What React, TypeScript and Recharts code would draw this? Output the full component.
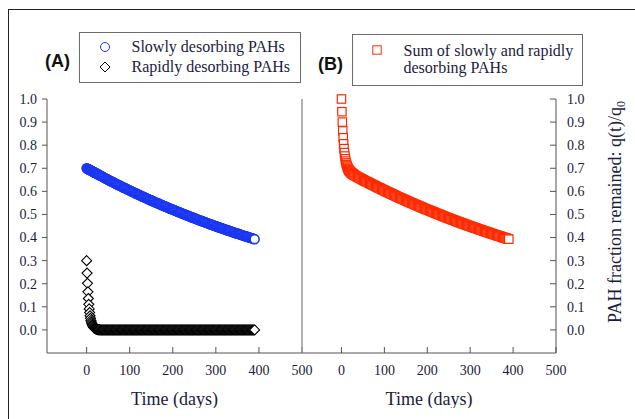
import React from "react";
import { ScatterChart, Scatter, XAxis, YAxis, ReferenceLine } from "recharts";

// sampling days: daily through day 30, then every second day
const DAYS = [
  0, 1, 2, 3, 4, 5, 6, 7, 8, 9, 10, 11, 12, 13, 14, 15, 16, 17, 18, 19, 20,
  21, 22, 23, 24, 25, 26, 27, 28, 29, 30,
  32, 34, 36, 38, 40, 42, 44, 46, 48, 50, 52, 54, 56, 58, 60, 62, 64, 66, 68, 70,
  72, 74, 76, 78, 80, 82, 84, 86, 88, 90, 92, 94, 96, 98, 100, 102, 104, 106, 108, 110,
  112, 114, 116, 118, 120, 122, 124, 126, 128, 130, 132, 134, 136, 138, 140, 142, 144, 146, 148, 150,
  152, 154, 156, 158, 160, 162, 164, 166, 168, 170, 172, 174, 176, 178, 180, 182, 184, 186, 188, 190,
  192, 194, 196, 198, 200, 202, 204, 206, 208, 210, 212, 214, 216, 218, 220, 222, 224, 226, 228, 230,
  232, 234, 236, 238, 240, 242, 244, 246, 248, 250, 252, 254, 256, 258, 260, 262, 264, 266, 268, 270,
  272, 274, 276, 278, 280, 282, 284, 286, 288, 290, 292, 294, 296, 298, 300, 302, 304, 306, 308, 310,
  312, 314, 316, 318, 320, 322, 324, 326, 328, 330, 332, 334, 336, 338, 340, 342, 344, 346, 348, 350,
  352, 354, 356, 358, 360, 362, 364, 366, 368, 370, 372, 374, 376, 378, 380, 382, 384, 386, 388, 390,
];

// slowly desorbing fraction
const SLOW = [
  0.700, 0.699, 0.698, 0.697, 0.696, 0.695, 0.694, 0.693, 0.692, 0.691, 0.690,
  0.689, 0.688, 0.687, 0.686, 0.685, 0.684, 0.683, 0.682, 0.681, 0.680,
  0.679, 0.678, 0.677, 0.676, 0.675, 0.674, 0.673, 0.672, 0.671, 0.670,
  0.668, 0.666, 0.664, 0.662, 0.660, 0.658, 0.656, 0.654, 0.652, 0.650,
  0.648, 0.646, 0.644, 0.642, 0.641, 0.639, 0.637, 0.635, 0.633, 0.631,
  0.629, 0.627, 0.626, 0.624, 0.622, 0.620, 0.618, 0.616, 0.615, 0.613,
  0.611, 0.609, 0.607, 0.606, 0.604, 0.602, 0.600, 0.598, 0.597, 0.595,
  0.593, 0.591, 0.590, 0.588, 0.586, 0.584, 0.583, 0.581, 0.579, 0.577,
  0.576, 0.574, 0.572, 0.571, 0.569, 0.567, 0.566, 0.564, 0.562, 0.561,
  0.559, 0.557, 0.556, 0.554, 0.552, 0.551, 0.549, 0.548, 0.546, 0.544,
  0.543, 0.541, 0.540, 0.538, 0.536, 0.535, 0.533, 0.532, 0.530, 0.528,
  0.527, 0.525, 0.524, 0.522, 0.521, 0.519, 0.518, 0.516, 0.515, 0.513,
  0.512, 0.510, 0.509, 0.507, 0.505, 0.504, 0.503, 0.501, 0.500, 0.498,
  0.497, 0.495, 0.494, 0.492, 0.491, 0.489, 0.488, 0.486, 0.485, 0.484,
  0.482, 0.481, 0.479, 0.478, 0.476, 0.475, 0.474, 0.472, 0.471, 0.469,
  0.468, 0.467, 0.465, 0.464, 0.463, 0.461, 0.460, 0.458, 0.457, 0.456,
  0.454, 0.453, 0.452, 0.450, 0.449, 0.448, 0.446, 0.445, 0.444, 0.442,
  0.441, 0.440, 0.439, 0.437, 0.436, 0.435, 0.433, 0.432, 0.431, 0.430,
  0.428, 0.427, 0.426, 0.424, 0.423, 0.422, 0.421, 0.419, 0.418, 0.417,
  0.416, 0.415, 0.413, 0.412, 0.411, 0.410, 0.408, 0.407, 0.406, 0.405,
  0.404, 0.402, 0.401, 0.400, 0.399, 0.398, 0.397, 0.395, 0.394, 0.393,
];

// rapidly desorbing fraction
const RAPID = [
  0.300, 0.246, 0.202, 0.165, 0.136, 0.111, 0.091, 0.075, 0.061, 0.050, 0.041,
  0.034, 0.028, 0.023, 0.019, 0.015, 0.013, 0.010, 0.008, 0.007, 0.006,
  0.005, 0.004, 0.003, 0.003, 0.002, 0.002, 0.001, 0.001, 0.001, 0.001,
  0, 0, 0, 0, 0, 0, 0, 0, 0, 0, 0, 0, 0, 0, 0, 0, 0, 0, 0, 0,
  0, 0, 0, 0, 0, 0, 0, 0, 0, 0, 0, 0, 0, 0, 0, 0, 0, 0, 0, 0,
  0, 0, 0, 0, 0, 0, 0, 0, 0, 0, 0, 0, 0, 0, 0, 0, 0, 0, 0, 0,
  0, 0, 0, 0, 0, 0, 0, 0, 0, 0, 0, 0, 0, 0, 0, 0, 0, 0, 0, 0,
  0, 0, 0, 0, 0, 0, 0, 0, 0, 0, 0, 0, 0, 0, 0, 0, 0, 0, 0, 0,
  0, 0, 0, 0, 0, 0, 0, 0, 0, 0, 0, 0, 0, 0, 0, 0, 0, 0, 0, 0,
  0, 0, 0, 0, 0, 0, 0, 0, 0, 0, 0, 0, 0, 0, 0, 0, 0, 0, 0, 0,
  0, 0, 0, 0, 0, 0, 0, 0, 0, 0, 0, 0, 0, 0, 0, 0, 0, 0, 0, 0,
  0, 0, 0, 0, 0, 0, 0, 0, 0, 0, 0, 0, 0, 0, 0, 0, 0, 0, 0, 0,
];

const X_TICKS = [0, 100, 200, 300, 400, 500];
const Y_TICKS = [0, 0.1, 0.2, 0.3, 0.4, 0.5, 0.6, 0.7, 0.8, 0.9, 1.0];
const X_DOMAIN = [-92, 500];
const Y_DOMAIN = [-0.1, 1.0];

const SERIF = '"Liberation Serif", "Times New Roman", serif';
const SANS = '"Liberation Sans", Arial, sans-serif';
const INK = "#1b1b3d";
const AXIS = "#555";
const BLUE = "#1a36f2";
const RED = "#ff2a00";
const BLACK = "#000";

const serifText: React.CSSProperties = { fontFamily: SERIF, fontSize: 14 };

const slowPoints = DAYS.map((day, i) => ({ day, value: SLOW[i] }));
const rapidPoints = DAYS.map((day, i) => ({ day, value: RAPID[i] }));
const sumPoints = DAYS.map((day, i) => ({ day, value: +(SLOW[i] + RAPID[i]).toFixed(3) }));

function HollowCircle(props: any) {
  return <circle cx={props.cx} cy={props.cy} r={4.5} fill="#fff" stroke={BLUE} strokeWidth={1.6} />;
}

function HollowDiamond(props: any) {
  const { cx, cy } = props;
  const h = 5;
  return (
    <polygon
      points={`${cx},${cy - h} ${cx + h},${cy} ${cx},${cy + h} ${cx - h},${cy}`}
      fill="#fff"
      stroke={BLACK}
      strokeWidth={1.1}
    />
  );
}

function HollowSquare(props: any) {
  const h = 4.2;
  return (
    <rect x={props.cx - h} y={props.cy - h} width={2 * h} height={2 * h} fill="#fff" stroke={RED} strokeWidth={1.2} />
  );
}

// bottom ticks point into the plot, labels sit below the axis
function BottomTick(props: any) {
  const { x, y, payload } = props;
  return (
    <g>
      <line x1={x} y1={y} x2={x} y2={y - 6} stroke={AXIS} />
      <text x={x} y={y + 22} textAnchor="middle" fill={INK} stroke="none" style={serifText}>
        {payload.value}
      </text>
    </g>
  );
}

function LeftTick(props: any) {
  const { x, y, payload } = props;
  return (
    <text x={x} y={y} dy="0.35em" textAnchor="end" fill={INK} stroke="none" style={serifText}>
      {Number(payload.value).toFixed(1)}
    </text>
  );
}

function RightTick(props: any) {
  const { x, y, payload } = props;
  return (
    <g>
      <line x1={x} y1={y} x2={x - 6} y2={y} stroke={AXIS} />
      <text x={x + 11} y={y} dy="0.35em" textAnchor="start" fill={INK} stroke="none" style={serifText}>
        {Number(payload.value).toFixed(1)}
      </text>
    </g>
  );
}

function TimeLabel(props: any) {
  const { viewBox } = props;
  const cx = viewBox.x + viewBox.width / 2;
  return (
    <text
      x={cx}
      y={viewBox.y + 52}
      textAnchor="middle"
      fill={INK}
      stroke="none"
      style={{ fontFamily: SERIF, fontSize: 18 }}
    >
      Time (days)
    </text>
  );
}

function TopAxis() {
  return (
    <XAxis
      xAxisId="top"
      orientation="top"
      type="number"
      domain={X_DOMAIN}
      ticks={X_TICKS}
      interval={0}
      mirror
      height={0}
      tick={false}
      tickSize={5}
      stroke={AXIS}
    />
  );
}

function LegendRow({ icon, label, height, iconCenter, textLeft }: any) {
  return (
    <div style={{ position: "relative", height, lineHeight: `${height}px`, whiteSpace: "nowrap" }}>
      <svg width={12} height={12} style={{ position: "absolute", left: iconCenter - 6, top: height / 2 - 6 }}>
        {icon}
      </svg>
      <span style={{ position: "absolute", left: textLeft }}>{label}</span>
    </div>
  );
}

const legendBox: React.CSSProperties = {
  position: "absolute",
  boxSizing: "border-box",
  border: "1.5px solid #6b6b6b",
  background: "#fff",
  fontFamily: SERIF,
  fontSize: 16,
  color: INK,
};

const panelTag: React.CSSProperties = {
  position: "absolute",
  fontFamily: SANS,
  fontWeight: "bold",
  fontSize: 18,
  lineHeight: "18px",
  color: "#111",
};

export default function App() {
  return (
    <div
      style={{
        position: "fixed",
        left: 0,
        top: 0,
        width: 635,
        height: 419,
        overflow: "hidden",
        background: "#fff",
      }}
    >
      <div
        style={{
          position: "absolute",
          left: 7.5,
          top: 8.5,
          width: 700,
          height: 500,
          borderTop: "1.5px solid #222",
          borderLeft: "1.5px solid #222",
        }}
      />

      {/* (A) slowly and rapidly desorbing fractions */}
      <div style={{ position: "absolute", left: 8, top: 8 }}>
        <ScatterChart width={320} height={400} margin={{ top: 91, right: 26, bottom: 25, left: 0 }}>
          <XAxis
            type="number"
            dataKey="day"
            domain={X_DOMAIN}
            ticks={X_TICKS}
            interval={0}
            height={30}
            tickLine={false}
            tickSize={0}
            tickMargin={0}
            tick={<BottomTick />}
            stroke={AXIS}
            label={<TimeLabel />}
          />
          {TopAxis()}
          <YAxis
            type="number"
            dataKey="value"
            domain={Y_DOMAIN}
            ticks={Y_TICKS}
            interval={0}
            width={39}
            tickSize={5}
            tickMargin={5}
            tick={<LeftTick />}
            stroke={AXIS}
          />
          <Scatter data={rapidPoints} shape={<HollowDiamond />} isAnimationActive={false} />
          <Scatter data={slowPoints} shape={<HollowCircle />} isAnimationActive={false} />
        </ScatterChart>
      </div>

      {/* (B) sum of both fractions */}
      <div style={{ position: "absolute", left: 298, top: 8 }}>
        <ScatterChart width={335} height={400} margin={{ top: 91, right: 0, bottom: 25, left: 4 }}>
          <XAxis
            type="number"
            dataKey="day"
            domain={X_DOMAIN}
            ticks={X_TICKS}
            interval={0}
            height={30}
            tickLine={false}
            tickSize={0}
            tickMargin={0}
            tick={<BottomTick />}
            stroke={AXIS}
            label={<TimeLabel />}
          />
          {TopAxis()}
          <YAxis
            type="number"
            dataKey="value"
            orientation="right"
            domain={Y_DOMAIN}
            ticks={Y_TICKS}
            interval={0}
            width={77}
            tickLine={false}
            tickSize={0}
            tickMargin={0}
            tick={<RightTick />}
            stroke="#777"
            strokeWidth={1.3}
          />
          <ReferenceLine x={X_DOMAIN[0]} stroke="#999" strokeWidth={1.5} />
          <Scatter data={sumPoints} shape={<HollowSquare />} isAnimationActive={false} />
        </ScatterChart>
      </div>

      <div style={{ ...panelTag, left: 45, top: 52 }}>(A)</div>
      <div style={{ ...panelTag, left: 318, top: 55 }}>(B)</div>

      <div style={{ ...legendBox, left: 79, top: 32, width: 222, height: 51, paddingTop: 4 }}>
        <LegendRow
          height={20}
          iconCenter={24.5}
          textLeft={51.5}
          label="Slowly desorbing PAHs"
          icon={<circle cx={6} cy={6} r={4.5} fill="#fff" stroke={BLUE} strokeWidth={1} />}
        />
        <LegendRow
          height={20}
          iconCenter={24.5}
          textLeft={51.5}
          label="Rapidly desorbing PAHs"
          icon={<polygon points="6,1 11,6 6,11 1,6" fill="#fff" stroke={BLACK} strokeWidth={1} />}
        />
      </div>

      <div style={{ ...legendBox, left: 352, top: 34, width: 231, height: 52, paddingTop: 6.5 }}>
        <LegendRow
          height={17}
          iconCenter={23.5}
          textLeft={50.5}
          label="Sum of slowly and rapidly"
          icon={<rect x={1.8} y={1.8} width={8.4} height={8.4} fill="#fff" stroke={RED} strokeWidth={1} />}
        />
        <LegendRow height={17} iconCenter={23.5} textLeft={50.5} label="desorbing PAHs" icon={null} />
      </div>

      <div
        style={{
          position: "absolute",
          left: 617,
          top: 212,
          transform: "translate(-50%, -50%) rotate(-90deg)",
          whiteSpace: "nowrap",
          fontFamily: SERIF,
          fontSize: 18,
          color: INK,
        }}
      >
        PAH fraction remained: q(t)/q<sub style={{ fontSize: 12 }}>0</sub>
      </div>
    </div>
  );
}
